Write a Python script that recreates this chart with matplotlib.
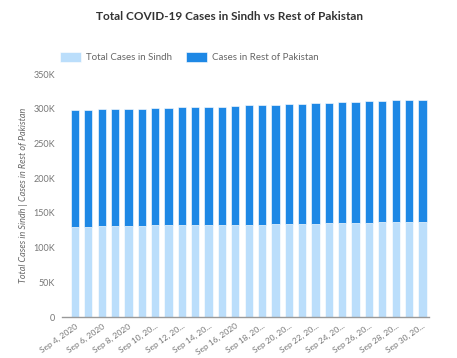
import numpy as np
import matplotlib
matplotlib.use("Agg")
import matplotlib.pyplot as plt

# dates shown on x axis (every day, labels every 2nd day)
dates = ["Sep 4, 2020", "Sep 5, 2020", "Sep 6, 2020", "Sep 7, 2020", "Sep 8, 2020",
         "Sep 9, 2020", "Sep 10, 2020", "Sep 11, 2020", "Sep 12, 2020", "Sep 13, 2020",
         "Sep 14, 2020", "Sep 15, 2020", "Sep 16, 2020", "Sep 17, 2020", "Sep 18, 2020",
         "Sep 19, 2020", "Sep 20, 2020", "Sep 21, 2020", "Sep 22, 2020", "Sep 23, 2020",
         "Sep 24, 2020", "Sep 25, 2020", "Sep 26, 2020", "Sep 27, 2020", "Sep 28, 2020",
         "Sep 29, 2020", "Sep 30, 2020"]
# tick labels as they appear (some cut off)
xtick_labels = ["Sep 4, 2020", "Sep 6, 2020", "Sep 8, 2020", "Sep 10, 20...",
                "Sep 12, 20...", "Sep 14, 20...", "Sep 16, 2020", "Sep 18, 20...",
                "Sep 20, 20...", "Sep 22, 20...", "Sep 24, 20...", "Sep 26, 20...",
                "Sep 28, 20...", "Sep 30, 20..."]

# total cases in Pakistan (thousands)
total = [298.1, 298.9, 299.1, 299.9, 300.1, 300.3, 301.2, 301.5, 302.3, 302.6,
         302.9, 303.1, 304.2, 305.0, 305.4, 306.1, 307.0, 307.3, 308.4, 309.0,
         309.3, 310.2, 311.2, 311.6, 312.0, 312.8, 313.0]
sindh = [130.2, 130.3, 131.4, 131.6, 131.7, 131.8, 131.9, 132.0, 132.1, 132.2,
         132.3, 132.4, 132.6, 133.0, 133.2, 133.6, 134.0, 134.3, 134.5, 135.1,
         135.3, 135.5, 135.7, 136.2, 136.5, 137.0, 137.3]
rest = [t - s for t, s in zip(total, sindh)]

yticks = [0, 50, 100, 150, 200, 250, 300, 350]
ytick_labels = ["0", "50K", "100K", "150K", "200K", "250K", "300K", "350K"]

plt.rcParams['font.family'] = ['Lato', 'DejaVu Sans']

fig = plt.figure(figsize=(4.57, 3.58), dpi=100)
ax = fig.add_axes([0.1357, 0.1145, 0.803, 0.6785])

x = np.arange(len(dates))
edge = (1, 1, 1, 0.6)
ax.bar(x, sindh, width=0.62, color="#bbdefb", edgecolor=edge, linewidth=0.7,
       label="Total Cases in Sindh")
ax.bar(x, rest, width=0.62, bottom=sindh, color="#1e88e5", edgecolor=edge, linewidth=0.7,
       label="Cases in Rest of Pakistan")

ax.set_xlim(-0.97, 26.49)
ax.set_ylim(0, 350)
ax.set_yticks(yticks)
ax.set_yticklabels(ytick_labels, fontsize=6.5, color="#777777")
ax.set_xticks(x[::2])
ax.set_xticklabels(xtick_labels, rotation=35, ha="right",
                   rotation_mode="anchor", fontsize=6, color="#777777")
ax.tick_params(axis="both", length=0, pad=5)
ax.tick_params(axis="x", pad=4)

for s in ["top", "right", "left"]:
    ax.spines[s].set_visible(False)
ax.spines["bottom"].set_color("#999999")
ax.spines["bottom"].set_linewidth(1.0)

ax.set_ylabel("Total Cases in Sindh | Cases in Rest of Pakistan", fontsize=6.5,
              color="#666666", style="italic", labelpad=4)

fig.suptitle("Total COVID-19 Cases in Sindh vs Rest of Pakistan", x=0.503, y=0.97,
             fontsize=8.5, fontweight="bold", color="#333333")

fig.legend(loc="upper left", bbox_to_anchor=(0.112, 0.878), ncol=2, frameon=False,
           fontsize=7, handlelength=2.2, handleheight=1.1, columnspacing=1.4,
           handletextpad=0.5, labelcolor="#666666")

fig.savefig("out.png", dpi=100)
